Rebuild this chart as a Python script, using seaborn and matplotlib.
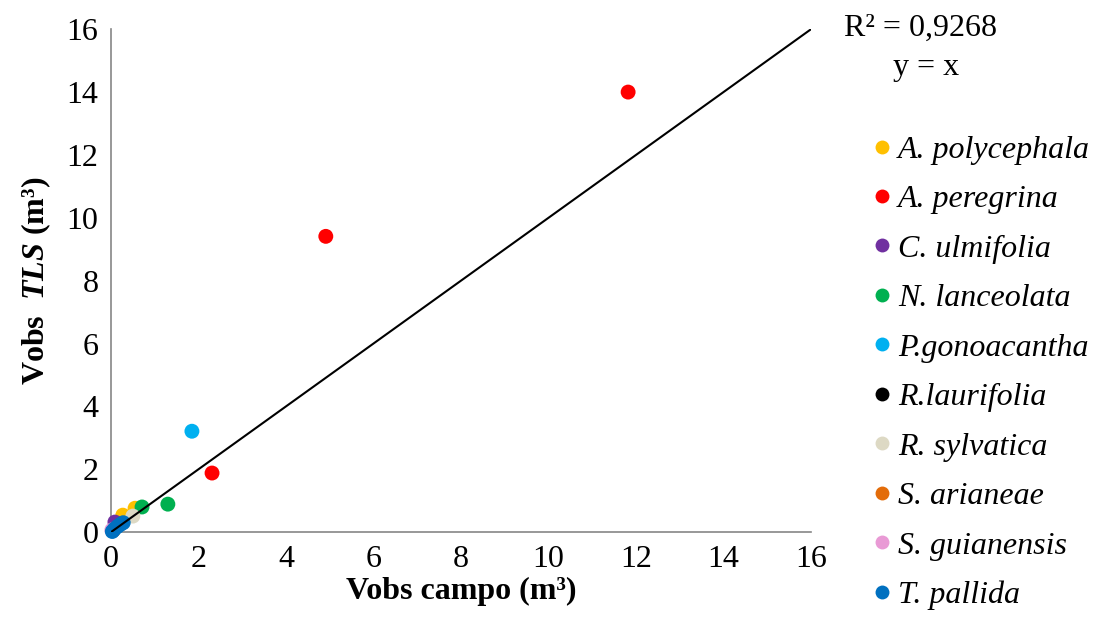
import matplotlib
matplotlib.use("Agg")
import matplotlib.pyplot as plt
import seaborn as sns
import pandas as pd
from matplotlib.lines import Line2D

# Species and their field / TLS volumes (m³)
species = ["A. polycephala", "A. peregrina", "C. ulmifolia", "N. lanceolata",
           "P.gonoacantha", "R.laurifolia", "R. sylvatica", "S. arianeae",
           "S. guianensis", "T. pallida"]
colors = ["#FFC000", "#FF0000", "#7030A0", "#00B050", "#00B0F0",
          "#000000", "#DDD9C4", "#E36C09", "#E99AD5", "#0070C0"]

vobs_campo = {
    "A. polycephala": [0.55, 0.27],
    "A. peregrina": [11.82, 4.91, 2.31],
    "C. ulmifolia": [0.09],
    "N. lanceolata": [1.30, 0.71],
    "P.gonoacantha": [1.85],
    "R.laurifolia": [0.05],
    "R. sylvatica": [0.50],
    "S. arianeae": [0.06],
    "S. guianensis": [0.02],
    "T. pallida": [0.03, 0.08, 0.15, 0.22, 0.28],
}
vobs_tls = {
    "A. polycephala": [0.76, 0.54],
    "A. peregrina": [14.0, 9.41, 1.88],
    "C. ulmifolia": [0.32],
    "N. lanceolata": [0.89, 0.80],
    "P.gonoacantha": [3.21],
    "R.laurifolia": [0.06],
    "R. sylvatica": [0.51],
    "S. arianeae": [0.08],
    "S. guianensis": [0.07],
    "T. pallida": [0.02, 0.10, 0.18, 0.25, 0.30],
}

rows = []
for sp in species:
    for xv, yv in zip(vobs_campo[sp], vobs_tls[sp]):
        rows.append({"campo": xv, "tls": yv, "especie": sp})
df = pd.DataFrame(rows)

sns.set_style("white")
plt.rcParams["font.family"] = ["Liberation Serif", "DejaVu Serif"]
plt.rcParams["text.color"] = "black"
plt.rcParams["axes.labelcolor"] = "black"
plt.rcParams["xtick.color"] = "black"
plt.rcParams["ytick.color"] = "black"
plt.rcParams["mathtext.fontset"] = "custom"
plt.rcParams["mathtext.rm"] = "Liberation Serif"
plt.rcParams["mathtext.it"] = "Liberation Serif:italic"
plt.rcParams["mathtext.bf"] = "Liberation Serif:bold"
plt.rcParams["mathtext.bfit"] = "Liberation Serif:italic:bold"

FS = 23

fig = plt.figure(figsize=(11.01, 6.35), dpi=100)
ax = fig.add_axes([0.1008, 0.162, 0.6358, 0.792])

sns.scatterplot(data=df, x="campo", y="tls", hue="especie",
                hue_order=species, palette=dict(zip(species, colors)),
                s=115, edgecolor="none", legend=False, ax=ax, zorder=4,
                clip_on=False)

# 1:1 reference line, drawn over the points
ax.plot([0, 16], [0, 16], color="black", lw=1.5, zorder=5)

ax.set_xlim(0, 16)
ax.set_ylim(0, 16)
ax.set_xticks(range(0, 17, 2))
ax.set_yticks(range(0, 17, 2))
ax.tick_params(axis="both", labelsize=FS, direction="out", length=6,
               width=1.2, color="#868686", labelcolor="black", pad=3)
for side in ["top", "right"]:
    ax.spines[side].set_visible(False)
for side in ["left", "bottom"]:
    ax.spines[side].set_color("#868686")
    ax.spines[side].set_linewidth(1.2)
    ax.spines[side].set_zorder(1)

ax.set_xlabel("Vobs campo (m³)", fontsize=FS, fontweight="bold", labelpad=2)
ax.set_ylabel("Vobs  $\\mathbfit{TLS}$ (m³)", fontsize=FS, fontweight="bold", labelpad=10)

fig.text(0.767, 0.955, "R² = 0,9268", fontsize=FS, va="center", ha="left")
fig.text(0.811, 0.893, "y = x", fontsize=FS, va="center", ha="left")

handles = [Line2D([], [], marker="o", ls="none", markersize=10,
                  markerfacecolor=c, markeredgecolor="none") for c in colors]
leg = fig.legend(handles, species, loc="upper left",
                 bbox_to_anchor=(0.775, 0.807), frameon=False,
                 prop={"family": "Liberation Serif", "style": "italic", "size": FS},
                 handletextpad=0.0, labelspacing=0.63, handlelength=1.0,
                 borderaxespad=0)

fig.savefig("out.png", dpi=100)
